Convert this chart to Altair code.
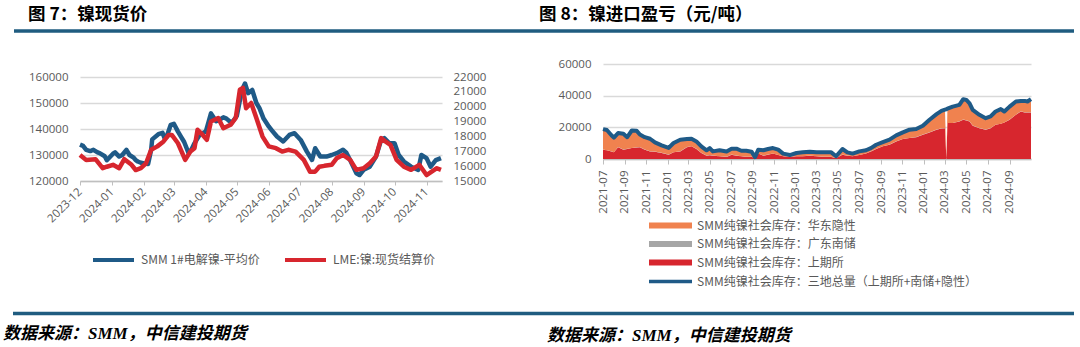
import altair as alt
import pandas as pd

# ---------------- colours / fonts ----------------
BLUE = "#1F5A87"
RED = "#D7262E"
ORANGE = "#F0824F"
GRAY = "#A6A6A6"
RULE = "#1F5C80"
LABEL = "#595959"
GRID = "#D9D9D9"
CJK = "Noto Sans CJK SC"
NUM = "Open Sans"

# ---------------- left chart data (图7) ----------------
smm_name = "SMM 1#电解镍-平均价"
lme_name = "LME:镍:现货结算价"

smm_dates = ["2023-12-01", "2023-12-04", "2023-12-07", "2023-12-11", "2023-12-14", "2023-12-18",
             "2023-12-20", "2023-12-25", "2023-12-27", "2024-01-02", "2024-01-04", "2024-01-08",
             "2024-01-11", "2024-01-15", "2024-01-18", "2024-01-22", "2024-01-24", "2024-01-26",
             "2024-01-29", "2024-02-05", "2024-02-08", "2024-02-09", "2024-02-15", "2024-02-19",
             "2024-02-21", "2024-02-23", "2024-02-27", "2024-03-01", "2024-03-05", "2024-03-08",
             "2024-03-11", "2024-03-15", "2024-03-18", "2024-03-21", "2024-03-26", "2024-04-01",
             "2024-04-06", "2024-04-11", "2024-04-14", "2024-04-18", "2024-04-21", "2024-04-26",
             "2024-05-01", "2024-05-06", "2024-05-09", "2024-05-12", "2024-05-16", "2024-05-20",
             "2024-05-23", "2024-05-27", "2024-06-01", "2024-06-04", "2024-06-09", "2024-06-15",
             "2024-06-21", "2024-06-26", "2024-07-02", "2024-07-08", "2024-07-13", "2024-07-16",
             "2024-07-21", "2024-07-27", "2024-08-01", "2024-08-06", "2024-08-12", "2024-08-15",
             "2024-08-19", "2024-08-25", "2024-08-28", "2024-09-01", "2024-09-07", "2024-09-13",
             "2024-09-18", "2024-09-21", "2024-09-26", "2024-10-01", "2024-10-05", "2024-10-10",
             "2024-10-17", "2024-10-24", "2024-10-27", "2024-11-01", "2024-11-05", "2024-11-10",
             "2024-11-15"]
smm_values = [134000, 133500, 132000, 131500, 132000, 131000,
              130700, 129500, 128000, 130500, 131000, 129400,
              130000, 132000, 130000, 129000, 128000, 127500,
              127000, 126500, 132000, 136000, 138000, 138500,
              136500, 137000, 141600, 142000, 139000, 137000,
              135000, 131000, 132000, 134500, 137800, 139000,
              146000, 143000, 143500, 144500, 144000, 142300,
              145000, 155000, 157500, 153800, 155000, 150000,
              148000, 144000, 141000, 139500, 137100, 135200,
              137700, 138400, 135800, 131300, 128100, 132600,
              129400, 129400, 130000, 130700, 132000, 131000,
              128000, 123000, 122300, 124300, 125500, 129400,
              135800, 136500, 134500, 134500, 130000, 127500,
              125500, 124300, 130000, 128800, 125500, 128000,
              128800]

lme_dates = ["2023-12-01", "2023-12-07", "2023-12-16", "2023-12-23", "2023-12-27", "2024-01-02",
             "2024-01-08", "2024-01-13", "2024-01-20", "2024-01-24", "2024-01-29", "2024-02-03",
             "2024-02-08", "2024-02-14", "2024-02-20", "2024-02-25", "2024-02-28", "2024-03-05",
             "2024-03-12", "2024-03-17", "2024-03-21", "2024-03-24", "2024-03-29", "2024-04-02",
             "2024-04-06", "2024-04-13", "2024-04-18", "2024-04-25", "2024-04-30", "2024-05-04",
             "2024-05-07", "2024-05-10", "2024-05-15", "2024-05-20", "2024-05-26", "2024-06-01",
             "2024-06-08", "2024-06-14", "2024-06-20", "2024-06-27", "2024-07-05", "2024-07-11",
             "2024-07-16", "2024-07-20", "2024-07-25", "2024-08-01", "2024-08-06", "2024-08-12",
             "2024-08-19", "2024-08-25", "2024-09-01", "2024-09-07", "2024-09-13", "2024-09-18",
             "2024-09-22", "2024-09-27", "2024-10-03", "2024-10-10", "2024-10-17", "2024-10-25",
             "2024-11-01", "2024-11-06", "2024-11-11", "2024-11-15"]
lme_values = [16750, 16420, 16470, 15860, 15960, 16090,
              15860, 16470, 16090, 15740, 15860, 16190,
              17100, 17330, 17660, 18100, 18100, 17540,
              16420, 16980, 17210, 18450, 18100, 17770,
              19010, 19240, 18550, 18780, 19240, 21140,
              21270, 19900, 20250, 19240, 17990, 17330,
              17210, 16980, 17100, 16980, 16420, 15630,
              15630, 15960, 16020, 16090, 16540, 16750,
              16420, 15750, 15860, 16190, 16650, 17890,
              17660, 17430, 16420, 15960, 15750, 16090,
              15400, 15630, 15860, 15750]

left_ticks = ["2023-12-01", "2024-01-01", "2024-02-01", "2024-03-01", "2024-04-01", "2024-05-01",
              "2024-06-01", "2024-07-01", "2024-08-01", "2024-09-01", "2024-10-01", "2024-11-01"]
left_y_ticks = [120000, 130000, 140000, 150000, 160000]
lme_y_ticks = [15000, 16000, 17000, 18000, 19000, 20000, 21000, 22000]

# ---------------- right chart data (图8) ----------------
east_name = "SMM纯镍社会库存：华东隐性"
gd_name = "SMM纯镍社会库存：广东南储"
shfe_name = "SMM纯镍社会库存：上期所"
total_name = "SMM纯镍社会库存：三地总量（上期所+南储+隐性）"

inv_dates = ["2021-07-01", "2021-07-12", "2021-07-25", "2021-08-01", "2021-08-13", "2021-08-28",
             "2021-09-08", "2021-09-21", "2021-10-05", "2021-10-14", "2021-10-28", "2021-11-12",
             "2021-11-26", "2021-12-15", "2022-01-04", "2022-01-18", "2022-02-06", "2022-02-25",
             "2022-03-10", "2022-03-24", "2022-04-07", "2022-04-22", "2022-05-01", "2022-05-10",
             "2022-05-29", "2022-06-18", "2022-07-02", "2022-07-16", "2022-07-30", "2022-08-13",
             "2022-08-28", "2022-09-07", "2022-09-16", "2022-10-01", "2022-10-14", "2022-10-28",
             "2022-11-12", "2022-11-26", "2022-12-15", "2023-01-03", "2023-01-21", "2023-02-10",
             "2023-03-01", "2023-03-23", "2023-04-12", "2023-04-26", "2023-05-14", "2023-05-28",
             "2023-06-12", "2023-07-01", "2023-07-20", "2023-08-03", "2023-08-18", "2023-09-06",
             "2023-09-25", "2023-10-14", "2023-11-02", "2023-11-21", "2023-12-10", "2023-12-29",
             "2024-01-17", "2024-02-06", "2024-02-20", "2024-03-01", "2024-03-05", "2024-03-08",
             "2024-03-23", "2024-04-11", "2024-04-22", "2024-05-01", "2024-05-10", "2024-05-19",
             "2024-06-07", "2024-06-25", "2024-07-09", "2024-07-23", "2024-08-07", "2024-08-17",
             "2024-09-01", "2024-09-19", "2024-10-03", "2024-10-14", "2024-10-22", "2024-11-01"]
total_values = [18900, 18300, 15000, 13500, 16400, 16000,
                13800, 18000, 17800, 15500, 13800, 12800,
                10500, 8600, 7000, 10100, 12200, 12600,
                12800, 11100, 8000, 5500, 6900, 4800,
                5500, 4800, 6500, 6500, 5200, 5200,
                4600, 1200, 5900, 5500, 6300, 6900,
                5900, 3400, 2500, 3800, 4200, 4600,
                4200, 4200, 4200, 1700, 6300, 4200,
                3400, 4800, 5500, 6900, 9000, 10700,
                12200, 14900, 16800, 18500, 18900, 21000,
                24800, 28300, 30400, 31200, 31400, 31800,
                33100, 34200, 37800, 37300, 35200, 31000,
                27900, 25800, 26900, 30000, 31500, 30000,
                33100, 36300, 36700, 36700, 36300, 37800]
shfe_values = [5900, 5500, 4800, 4200, 7500, 5900,
               6300, 6900, 7300, 7500, 5900, 4800,
               4600, 3800, 2700, 4200, 4800, 7500,
               8000, 6300, 3800, 2100, 2400, 2100,
               1700, 1300, 2700, 2100, 1700, 1300,
               1300, 1000, 3400, 2100, 2700, 3400,
               2500, 1700, 1300, 1700, 1700, 2100,
               1700, 1300, 1300, 600, 2700, 2100,
               1700, 2500, 3400, 4800, 6300, 8000,
               9000, 11100, 12600, 13200, 13800, 15300,
               16800, 18500, 19300, 19500, 0, 22700,
               22700, 23700, 24800, 24300, 23700, 21000,
               19500, 18500, 19500, 21600, 22200, 23000,
               24800, 27900, 30000, 29400, 29400, 29400]
gd_values = [100, 100, 100, 100, 100, 100,
             100, 100, 100, 100, 100, 100,
             100, 100, 100, 100, 100, 100,
             100, 100, 100, 100, 100, 100,
             100, 100, 100, 100, 100, 100,
             100, 100, 100, 100, 100, 100,
             100, 100, 100, 100, 100, 100,
             100, 100, 100, 100, 100, 100,
             100, 100, 100, 100, 100, 100,
             100, 100, 100, 100, 100, 100,
             100, 100, 100, 100, 0, 100,
             100, 100, 100, 100, 100, 100,
             100, 100, 100, 100, 100, 100,
             100, 100, 100, 100, 100, 100]
east_values = [12900, 12700, 10100, 9200, 8800, 10000,
               7400, 11000, 10400, 7900, 7800, 7900,
               5800, 4700, 4200, 5800, 7300, 5000,
               4700, 4700, 4100, 3300, 4400, 2600,
               3700, 3400, 3700, 4300, 3400, 3800,
               3200, 100, 2400, 3300, 3500, 3400,
               3300, 1600, 1100, 2000, 2400, 2400,
               2400, 2800, 2800, 1000, 3500, 2000,
               1600, 2200, 2000, 2000, 2600, 2600,
               3100, 3700, 4100, 5200, 5000, 5600,
               7900, 9700, 11000, 11600, 0, 9000,
               10300, 10400, 12900, 12900, 11400, 9900,
               8300, 7200, 7300, 8300, 9200, 6900,
               8200, 8300, 6600, 7200, 6800, 8300]

right_ticks = ["2021-07-01", "2021-09-01", "2021-11-01", "2022-01-01", "2022-03-01", "2022-05-01",
               "2022-07-01", "2022-09-01", "2022-11-01", "2023-01-01", "2023-03-01", "2023-05-01",
               "2023-07-01", "2023-09-01", "2023-11-01", "2024-01-01", "2024-03-01", "2024-05-01",
               "2024-07-01", "2024-09-01"]
right_y_ticks = [0, 20000, 40000, 60000]


def dt(s):
    y, m, d = (int(p) for p in s.split("-"))
    return alt.DateTime(year=y, month=m, date=d)


# ---------------- data frames ----------------
smm_df = pd.DataFrame({"date": smm_dates, "value": smm_values, "series": smm_name})
lme_df = pd.DataFrame({"date": lme_dates, "value": lme_values, "series": lme_name})

stack_series = [shfe_name, gd_name, east_name]  # bottom -> top
stack_vals = [shfe_values, gd_values, east_values]
rows = []
for rank, (nm, vals) in enumerate(zip(stack_series, stack_vals)):
    for d, v in zip(inv_dates, vals):
        rows.append({"date": d, "value": v, "series": nm, "rank": rank})
area_df = pd.DataFrame(rows)
total_df = pd.DataFrame({"date": inv_dates, "value": total_values, "series": total_name})

# ---------------- scales ----------------
H = 347
W = 1080
LX0, LX1, LY0, LY1 = 80, 442, 181, 77
RX0, RX1, RY0, RY1 = 603, 1031, 159, 64


def left_x_scale():
    return alt.Scale(domain=[dt("2023-12-01"), dt("2024-11-16")], range=[LX0, LX1], nice=False)


def right_x_scale():
    return alt.Scale(domain=[dt("2021-07-01"), dt("2024-11-01")], range=[RX0, RX1], nice=False)


def right_y_scale():
    return alt.Scale(domain=[0, 60000], range=[RY0, RY1], zero=False, nice=False)


axis_common = dict(labelFont=NUM, labelFontSize=11.5, labelColor=LABEL,
                   labelFlush=False, labelOverlap=False)

# ---------------- left chart ----------------
smm_line = alt.Chart(smm_df).mark_line(strokeWidth=4.5, strokeJoin="round").encode(
    x=alt.X("date:T", title=None, scale=left_x_scale(),
            axis=alt.Axis(orient="bottom", offset=LY0 - H,
                          values=[dt(t) for t in left_ticks], format="%Y-%m",
                          labelAngle=-45, labelAlign="right", labelBaseline="middle",
                          labelPadding=5, tickSize=4, tickColor="#BFBFBF",
                          domainColor="#BFBFBF", domainWidth=1.5, grid=False,
                          **axis_common)),
    y=alt.Y("value:Q", title=None,
            scale=alt.Scale(domain=[120000, 160000], range=[LY0, LY1], zero=False, nice=False),
            axis=alt.Axis(orient="left", offset=-LX0, values=left_y_ticks, format="d",
                          grid=True, gridColor=GRID, gridWidth=1.5, domain=False,
                          ticks=False, labelPadding=12, **axis_common)),
    color=alt.Color("series:N", scale=alt.Scale(domain=[smm_name], range=[BLUE]),
                    legend=alt.Legend(orient="none", legendX=91, legendY=252, title=None,
                                      symbolType="stroke", symbolSize=1681,
                                      symbolStrokeWidth=4, labelFont=CJK, labelFontSize=12,
                                      labelColor=LABEL, labelOffset=5, clipHeight=16,
                                      padding=0, labelLimit=400)),
)

lme_line = alt.Chart(lme_df).mark_line(strokeWidth=4.5, strokeJoin="round").encode(
    x=alt.X("date:T", title=None, scale=left_x_scale(), axis=None),
    y=alt.Y("value:Q", title=None,
            scale=alt.Scale(domain=[15000, 22000], range=[LY0, LY1], zero=False, nice=False),
            axis=alt.Axis(orient="right", offset=LX1 - W, values=lme_y_ticks, format="d",
                          grid=False, domain=False, ticks=False, labelPadding=11,
                          **axis_common)),
    color=alt.Color("series:N", scale=alt.Scale(domain=[lme_name], range=[RED]),
                    legend=alt.Legend(orient="none", legendX=283, legendY=252, title=None,
                                      symbolType="stroke", symbolSize=1681,
                                      symbolStrokeWidth=4, labelFont=CJK, labelFontSize=12,
                                      labelColor=LABEL, labelOffset=5, clipHeight=16,
                                      padding=0, labelLimit=400)),
)

# ---------------- right chart ----------------
inv_area = alt.Chart(area_df).mark_area(interpolate="linear").encode(
    x=alt.X("date:T", title=None, scale=right_x_scale(),
            axis=alt.Axis(orient="bottom", offset=RY0 - H,
                          values=[dt(t) for t in right_ticks], format="%Y-%m",
                          labelAngle=-90, labelAlign="right", labelBaseline="middle",
                          labelPadding=6, tickSize=5, tickColor="#BFBFBF",
                          domainColor="#BFBFBF", domainWidth=1.5, grid=False,
                          **axis_common)),
    y=alt.Y("value:Q", title=None, stack="zero", scale=right_y_scale(),
            axis=alt.Axis(orient="left", offset=-RX0, values=right_y_ticks, format="d",
                          grid=True, gridColor=GRID, gridWidth=1.5, domain=False,
                          ticks=False, labelPadding=12, **axis_common)),
    color=alt.Color("series:N",
                    scale=alt.Scale(domain=[east_name, gd_name, shfe_name],
                                    range=[ORANGE, GRAY, RED]),
                    legend=alt.Legend(orient="none", legendX=649, legendY=218.5, title=None,
                                      symbolType="M-1,-0.14H1V0.14H-1Z", symbolSize=1849,
                                      symbolStrokeWidth=0, symbolOpacity=1,
                                      labelFont=CJK, labelFontSize=12, labelColor=LABEL,
                                      labelOffset=5, clipHeight=14, rowPadding=4.5,
                                      padding=0, labelLimit=400)),
    order=alt.Order("rank:Q", sort="ascending"),
)

total_line = alt.Chart(total_df).mark_line(strokeWidth=4, strokeJoin="round").encode(
    x=alt.X("date:T", title=None, scale=right_x_scale(), axis=None),
    y=alt.Y("value:Q", title=None, scale=right_y_scale(), axis=None),
    color=alt.Color("series:N", scale=alt.Scale(domain=[total_name], range=[BLUE]),
                    legend=alt.Legend(orient="none", legendX=647, legendY=274.5, title=None,
                                      symbolType="stroke", symbolSize=1849,
                                      symbolStrokeWidth=3.5, labelFont=CJK, labelFontSize=12,
                                      labelColor=LABEL, labelOffset=3, clipHeight=14,
                                      padding=0, labelLimit=400)),
)

# ---------------- decorations ----------------
one = alt.Data(values=[{}])


def text_layer(txt, x, y, size, font=CJK, style="normal"):
    return alt.Chart(one).mark_text(text=txt, align="left", baseline="middle", font=font,
                                    fontSize=size, fontWeight="bold", fontStyle=style,
                                    color="#000000").encode(x=alt.value(x), y=alt.value(y))


def hrule(x0, x1, y):
    return alt.Chart(one).mark_rule(color=RULE, strokeWidth=3.5).encode(
        x=alt.value(x0), x2=alt.value(x1), y=alt.value(y))


SRC_FONT = "Liberation Serif, Noto Sans CJK SC"
decor = [
    text_layer("图 7：镍现货价", 28, 15, 17.5),
    text_layer("图 8：镍进口盈亏（元/吨）", 539, 15, 17.5),
    hrule(14, 1074, 31),
    hrule(13, 1074, 313.5),
    text_layer("数据来源：SMM，中信建投期货", 3, 334, 17, font=SRC_FONT, style="italic"),
    text_layer("数据来源：SMM，中信建投期货", 547, 336, 17, font=SRC_FONT, style="italic"),
]

chart = alt.layer(smm_line, lme_line, inv_area, total_line, *decor).resolve_scale(
    x="independent", y="independent", color="independent"
).properties(
    width=W, height=H, autosize=alt.AutoSizeParams(type="none"), padding=0,
    background="#FFFFFF",
).configure_view(strokeWidth=0)

chart.save("out.html", embed_options={"renderer": "svg", "actions": False})
